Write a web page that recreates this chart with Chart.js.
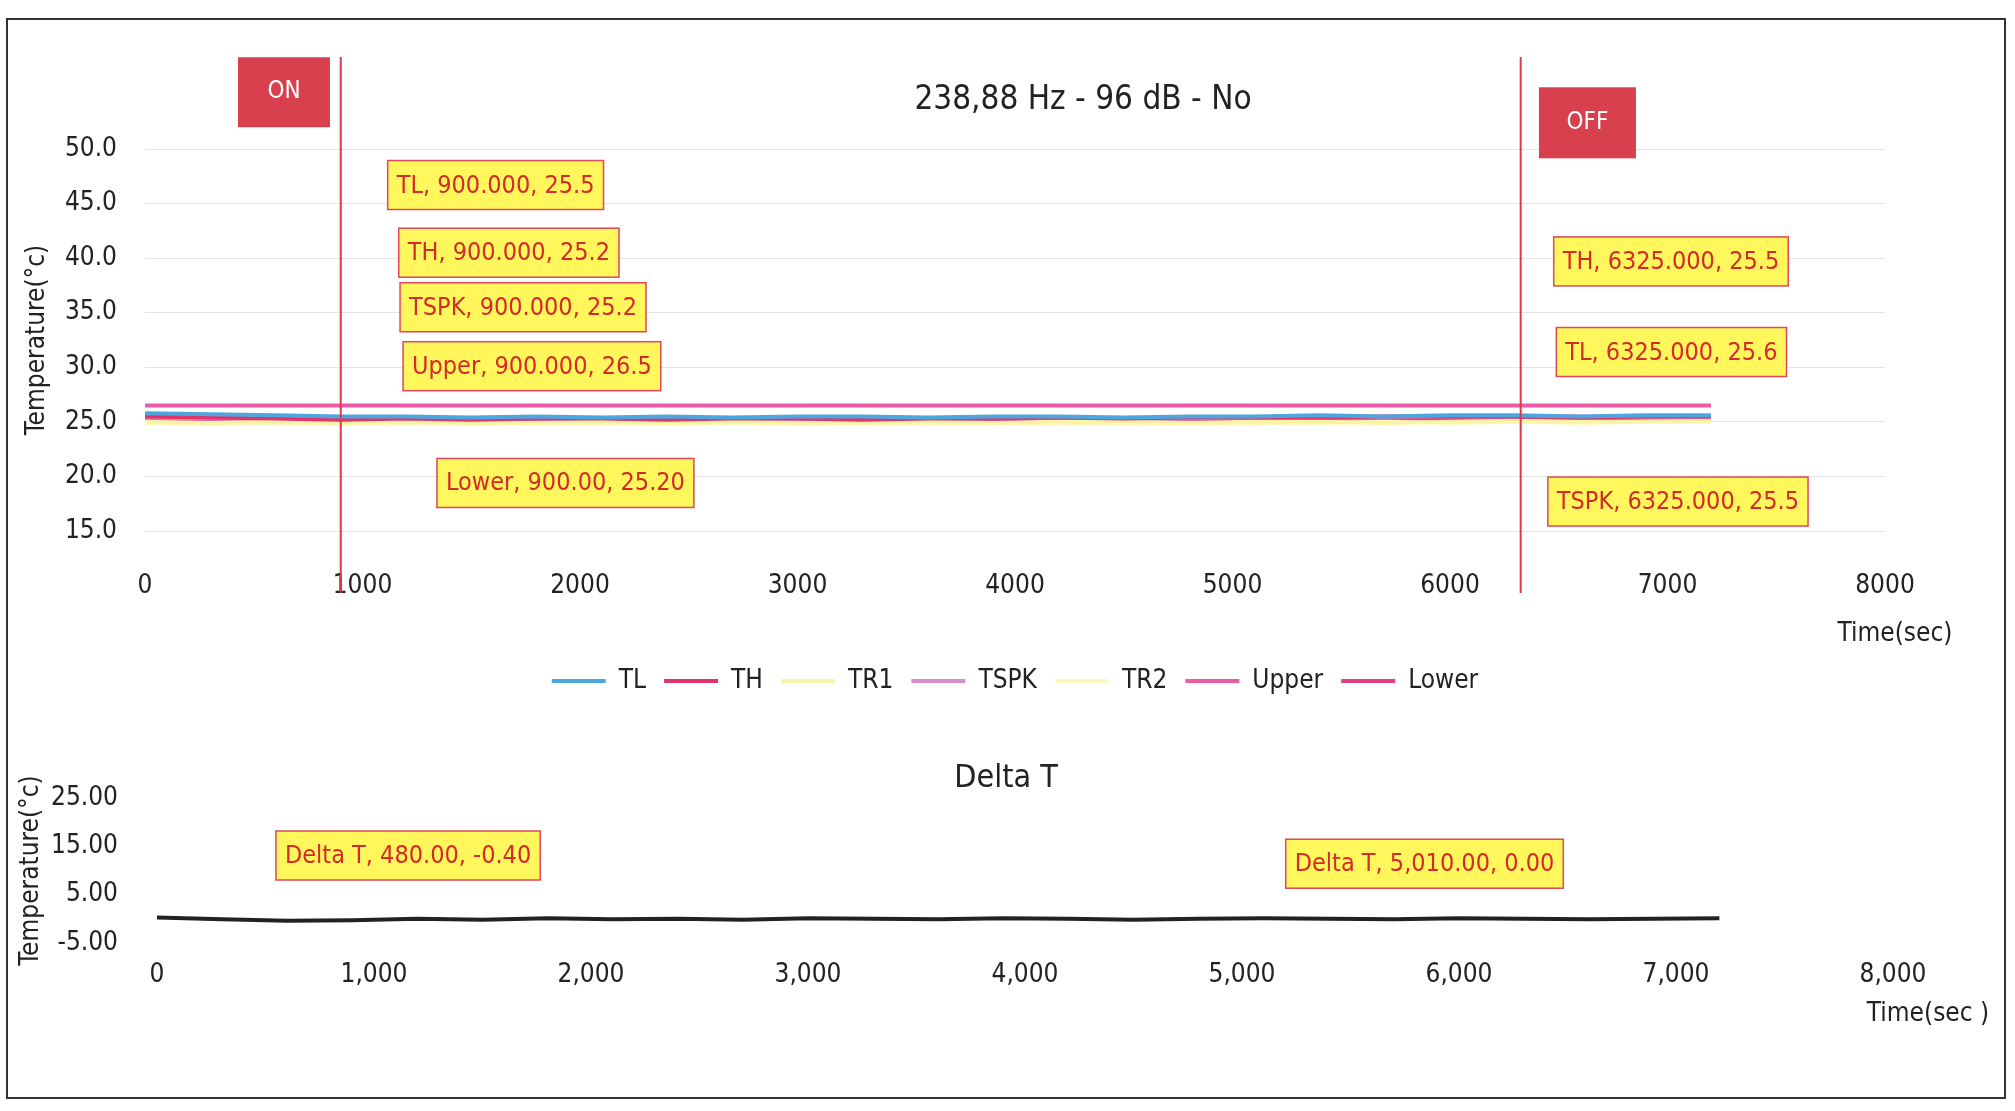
<!DOCTYPE html>
<html>
<head>
<meta charset="utf-8">
<script src="https://cdn.jsdelivr.net/npm/chart.js@4.4.0/dist/chart.umd.min.js"></script>
<style>
    body { margin: 0; background: #fff; width: 2015px; height: 1111px; overflow: hidden; position: relative; }
    #frame { position: absolute; left: 6px; top: 18px; width: 2000px; height: 1081px; border: 2px solid #333; box-sizing: border-box; }
    #topChart { position: absolute; left: 0; top: 0; }
    #deltaChart { position: absolute; left: 0; top: 720px; }
</style>
</head>
<body>
<div id="frame"></div>
<canvas id="topChart" width="2015" height="720"></canvas>
<canvas id="deltaChart" width="2015" height="391"></canvas>
<script>
const FONT = '"DejaVu Sans Condensed", "DejaVu Sans", sans-serif';

// tiempo (s)
const times = [0, 300, 600, 900, 1200, 1500, 1800, 2100, 2400, 2700, 3000, 3300, 3600,
    3900, 4200, 4500, 4800, 5100, 5400, 5700, 6000, 6300, 6600, 6900, 7200];

// temperaturas (°C)
const TL    = [25.8, 25.7, 25.6, 25.5, 25.5, 25.4, 25.5, 25.4, 25.5, 25.4, 25.5, 25.5, 25.4,
    25.5, 25.5, 25.4, 25.5, 25.5, 25.6, 25.5, 25.6, 25.6, 25.5, 25.6, 25.6];
const TH    = [25.5, 25.4, 25.3, 25.2, 25.3, 25.2, 25.3, 25.3, 25.2, 25.3, 25.3, 25.2, 25.3,
    25.3, 25.4, 25.3, 25.4, 25.4, 25.4, 25.5, 25.5, 25.5, 25.4, 25.5, 25.5];
const TR1   = [25.0, 24.9, 25.0, 24.9, 25.0, 24.9, 24.9, 25.0, 24.9, 25.0, 24.9, 24.9, 25.0,
    24.9, 25.0, 25.0, 24.9, 25.0, 25.0, 24.9, 25.0, 25.1, 25.0, 25.0, 25.1];
const TSPK  = [25.4, 25.3, 25.3, 25.2, 25.3, 25.2, 25.3, 25.2, 25.3, 25.3, 25.2, 25.3, 25.3,
    25.3, 25.4, 25.3, 25.3, 25.4, 25.4, 25.4, 25.5, 25.5, 25.5, 25.4, 25.5];
const TR2   = [24.9, 24.8, 24.9, 24.8, 24.9, 24.8, 24.9, 24.8, 24.9, 24.9, 24.8, 24.9, 24.8,
    24.9, 24.9, 24.8, 24.9, 24.9, 24.9, 25.0, 24.9, 25.0, 24.9, 25.0, 25.0];
const Upper = [26.5, 26.5, 26.5, 26.5, 26.5, 26.5, 26.5, 26.5, 26.5, 26.5, 26.5, 26.5, 26.5,
    26.5, 26.5, 26.5, 26.5, 26.5, 26.5, 26.5, 26.5, 26.5, 26.5, 26.5, 26.5];
const Lower = [25.2, 25.2, 25.2, 25.2, 25.2, 25.2, 25.2, 25.2, 25.2, 25.2, 25.2, 25.2, 25.2,
    25.2, 25.2, 25.2, 25.2, 25.2, 25.2, 25.2, 25.2, 25.2, 25.2, 25.2, 25.2];
const deltaT = [0.3, -0.1, -0.4, -0.3, 0.0, -0.2, 0.1, -0.1, 0.0, -0.2, 0.1, 0.0, -0.1,
    0.1, 0.0, -0.2, 0.0, 0.1, 0.0, -0.1, 0.1, 0.0, -0.1, 0.0, 0.1];

const seriesNames  = ['TL', 'TH', 'TR1', 'TSPK', 'TR2', 'Upper', 'Lower'];
const seriesValues = [TL, TH, TR1, TSPK, TR2, Upper, Lower];
const seriesColors = ['#4ea6de', '#e2336b', '#fbf4a6', '#d98cc6', '#fdf9be', '#ea5aa6', '#df3f86'];

// ejes
const tempTicks  = [15, 20, 25, 30, 35, 40, 45, 50];
const deltaTicks = [-5, 5, 15, 25];
const timeTicks  = [0, 1000, 2000, 3000, 4000, 5000, 6000, 7000, 8000];

// encendido / apagado
const switchTimes  = [900, 6325];
const switchLabels = ['ON', 'OFF'];

// etiquetas de datos (texto, x en s, y en °C)
const topLabels = [
    ['TL, 900.000, 25.5', 1612, 46.7],
    ['TH, 900.000, 25.2', 1673, 40.5],
    ['TSPK, 900.000, 25.2', 1738, 35.5],
    ['Upper, 900.000, 26.5', 1779, 30.1],
    ['Lower, 900.00, 25.20', 1933, 19.4],
    ['TH, 6325.000, 25.5', 7016, 39.7],
    ['TL, 6325.000, 25.6', 7018, 31.4],
    ['TSPK, 6325.000, 25.5', 7048, 17.7]
];
const deltaLabels = [
    ['Delta T, 480.00, -0.40', 1157, 13.1],
    ['Delta T, 5,010.00, 0.00', 5841, 11.4]
];

function drawTag(ctx, text, cx, cy) {
    ctx.font = '25px ' + FONT;
    const w = ctx.measureText(text).width + 18;
    const h = 49;
    ctx.fillStyle = '#fff75c';
    ctx.fillRect(cx - w / 2, cy - h / 2, w, h);
    ctx.strokeStyle = '#e0475a';
    ctx.lineWidth = 1.5;
    ctx.strokeRect(cx - w / 2, cy - h / 2, w, h);
    ctx.fillStyle = '#d32a2a';
    ctx.textAlign = 'center';
    ctx.textBaseline = 'middle';
    ctx.fillText(text, cx, cy + 1);
}

const topDecor = {
    id: 'topDecor',
    afterDatasetsDraw(chart) {
        const { ctx, chartArea, scales: { x, y } } = chart;
        ctx.save();
        // líneas verticales ON / OFF
        ctx.strokeStyle = '#e0384a';
        ctx.lineWidth = 2;
        switchTimes.forEach(t => {
            const px = x.getPixelForValue(t);
            ctx.beginPath();
            ctx.moveTo(px, chartArea.top - 92);
            ctx.lineTo(px, chartArea.bottom + 62);
            ctx.stroke();
        });
        // cajas ON / OFF
        const boxes = [[639, 55.2, 92, 70], [6632, 52.4, 97, 71]];
        boxes.forEach((b, i) => {
            const cx = x.getPixelForValue(b[0]);
            const cy = y.getPixelForValue(b[1]);
            ctx.fillStyle = '#d9404e';
            ctx.fillRect(cx - b[2] / 2, cy - b[3] / 2, b[2], b[3]);
            ctx.fillStyle = '#fff';
            ctx.font = '24px ' + FONT;
            ctx.textAlign = 'center';
            ctx.textBaseline = 'middle';
            ctx.fillText(switchLabels[i], cx, cy);
        });
        topLabels.forEach(l => drawTag(ctx, l[0], x.getPixelForValue(l[1]), y.getPixelForValue(l[2])));
        // título
        ctx.fillStyle = '#222';
        ctx.font = '33px ' + FONT;
        ctx.textAlign = 'center';
        ctx.textBaseline = 'middle';
        ctx.fillText('238,88 Hz - 96 dB - No', 1083, 100);
        ctx.font = '26px ' + FONT;
        ctx.fillText('Time(sec)', 1895, 634);
        ctx.restore();
    }
};

const deltaDecor = {
    id: 'deltaDecor',
    afterDatasetsDraw(chart) {
        const { ctx, scales: { x, y } } = chart;
        ctx.save();
        deltaLabels.forEach(l => drawTag(ctx, l[0], x.getPixelForValue(l[1]), y.getPixelForValue(l[2])));
        ctx.fillStyle = '#222';
        ctx.font = '32px ' + FONT;
        ctx.textAlign = 'center';
        ctx.textBaseline = 'middle';
        ctx.fillText('Delta T', 1006, 59);
        ctx.font = '26px ' + FONT;
        ctx.fillText('Time(sec )', 1928, 294);
        ctx.restore();
    }
};

const tickFont = { family: FONT, size: 26 };

new Chart(document.getElementById('topChart').getContext('2d'), {
    type: 'line',
    data: {
        datasets: seriesNames.map((name, i) => ({
            label: name,
            data: times.map((t, j) => ({ x: t, y: seriesValues[i][j] })),
            borderColor: seriesColors[i],
            backgroundColor: seriesColors[i],
            borderWidth: 4,
            pointRadius: 0,
            tension: 0
        }))
    },
    options: {
        responsive: false,
        animation: false,
        layout: { padding: { left: 0, right: 130, top: 149, bottom: 16 } },
        plugins: {
            legend: {
                position: 'bottom',
                fullSize: false,
                labels: {
                    usePointStyle: true,
                    pointStyle: 'line',
                    pointStyleWidth: 54,
                    color: '#222',
                    padding: 18,
                    font: { family: FONT, size: 26 }
                }
            },
            tooltip: { enabled: false }
        },
        scales: {
            x: {
                type: 'linear',
                min: 0, max: 8000,
                afterBuildTicks: s => { s.ticks = timeTicks.map(v => ({ value: v })); },
                afterFit: s => { s.height = 119; },
                grid: { display: false },
                border: { display: false },
                ticks: { padding: 32, color: '#222', font: tickFont, callback: v => String(v) }
            },
            y: {
                min: 15, max: 50,
                afterBuildTicks: s => { s.ticks = tempTicks.map(v => ({ value: v })); },
                afterFit: s => { s.width = 145; },
                grid: { color: '#e4e4e4', drawTicks: false },
                border: { display: false },
                ticks: { padding: 28, color: '#222', font: tickFont, callback: v => v.toFixed(1) },
                title: { display: true, text: 'Temperature(°c)', color: '#222', font: { family: FONT, size: 26 }, padding: { top: 22 } }
            }
        }
    },
    plugins: [topDecor]
});

new Chart(document.getElementById('deltaChart').getContext('2d'), {
    type: 'line',
    data: {
        datasets: [{
            label: 'Delta T',
            data: times.map((t, j) => ({ x: t, y: deltaT[j] })),
            borderColor: '#222',
            borderWidth: 4,
            pointRadius: 0,
            tension: 0
        }]
    },
    options: {
        responsive: false,
        animation: false,
        layout: { padding: { left: 0, right: 122, top: 78, bottom: 0 } },
        plugins: { legend: { display: false }, tooltip: { enabled: false } },
        scales: {
            x: {
                type: 'linear',
                min: 0, max: 8000,
                afterBuildTicks: s => { s.ticks = timeTicks.map(v => ({ value: v })); },
                afterFit: s => { s.height = 168; },
                grid: { display: false },
                border: { display: false },
                ticks: { padding: 9, color: '#222', font: tickFont, callback: v => v.toLocaleString('en-US') }
            },
            y: {
                min: -5, max: 25,
                afterBuildTicks: s => { s.ticks = deltaTicks.map(v => ({ value: v })); },
                afterFit: s => { s.width = 157; },
                grid: { display: false },
                border: { display: false },
                ticks: { padding: 31, color: '#222', font: tickFont, callback: v => v.toFixed(2) },
                title: { display: true, text: 'Temperature(°c)', color: '#222', font: { family: FONT, size: 26 }, padding: { top: 16 } }
            }
        }
    },
    plugins: [deltaDecor]
});
</script>
</body>
</html>
